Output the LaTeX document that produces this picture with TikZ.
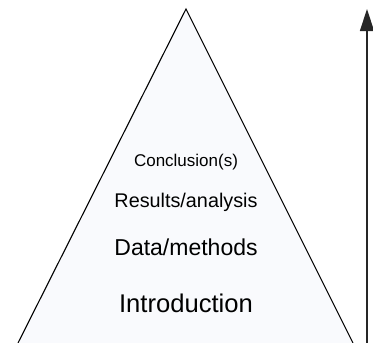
\documentclass[tikz,border=0pt]{standalone}
\usepackage{fontspec}
\setmainfont{Liberation Sans}
\usetikzlibrary{arrows.meta}
\definecolor{pyrfill}{HTML}{F9FAFD}
\tikzset{
  level/.style={anchor=base, inner sep=0pt},
}
\begin{document}
\begin{tikzpicture}[x=1pt, y=-1pt]
    \useasboundingbox (0,0) rectangle (373,343);

    % Pyramid
    \coordinate (apex) at (186,9);
    \coordinate (baseL) at (18,343);
    \coordinate (baseR) at (353,343);
    \filldraw[fill=pyrfill, draw=black, line width=1.1pt, line join=miter] (baseL) -- (apex) -- (baseR);

    % Labels (smallest at the top)
    \node[level, font=\fontsize{17}{17}\selectfont] (concl) at (186,166) {Conclusion(s)};
    \node[level, font=\fontsize{19.8}{19.8}\selectfont] (results) at (186,207) {Results/analysis};
    \node[level, font=\fontsize{23}{23}\selectfont] (data) at (186,255) {Data/methods};
    \node[level, font=\fontsize{25.6}{25.6}\selectfont] (intro) at (186,312) {Introduction};

    % Arrow on the right
    \coordinate (arrBot) at (367,343);
    \coordinate (arrTop) at (367,9);
    \draw[line width=1.4pt, -{Triangle[length=22pt, width=14pt]}, draw=black!85] (arrBot) -- (arrTop);
\end{tikzpicture}
\end{document}
